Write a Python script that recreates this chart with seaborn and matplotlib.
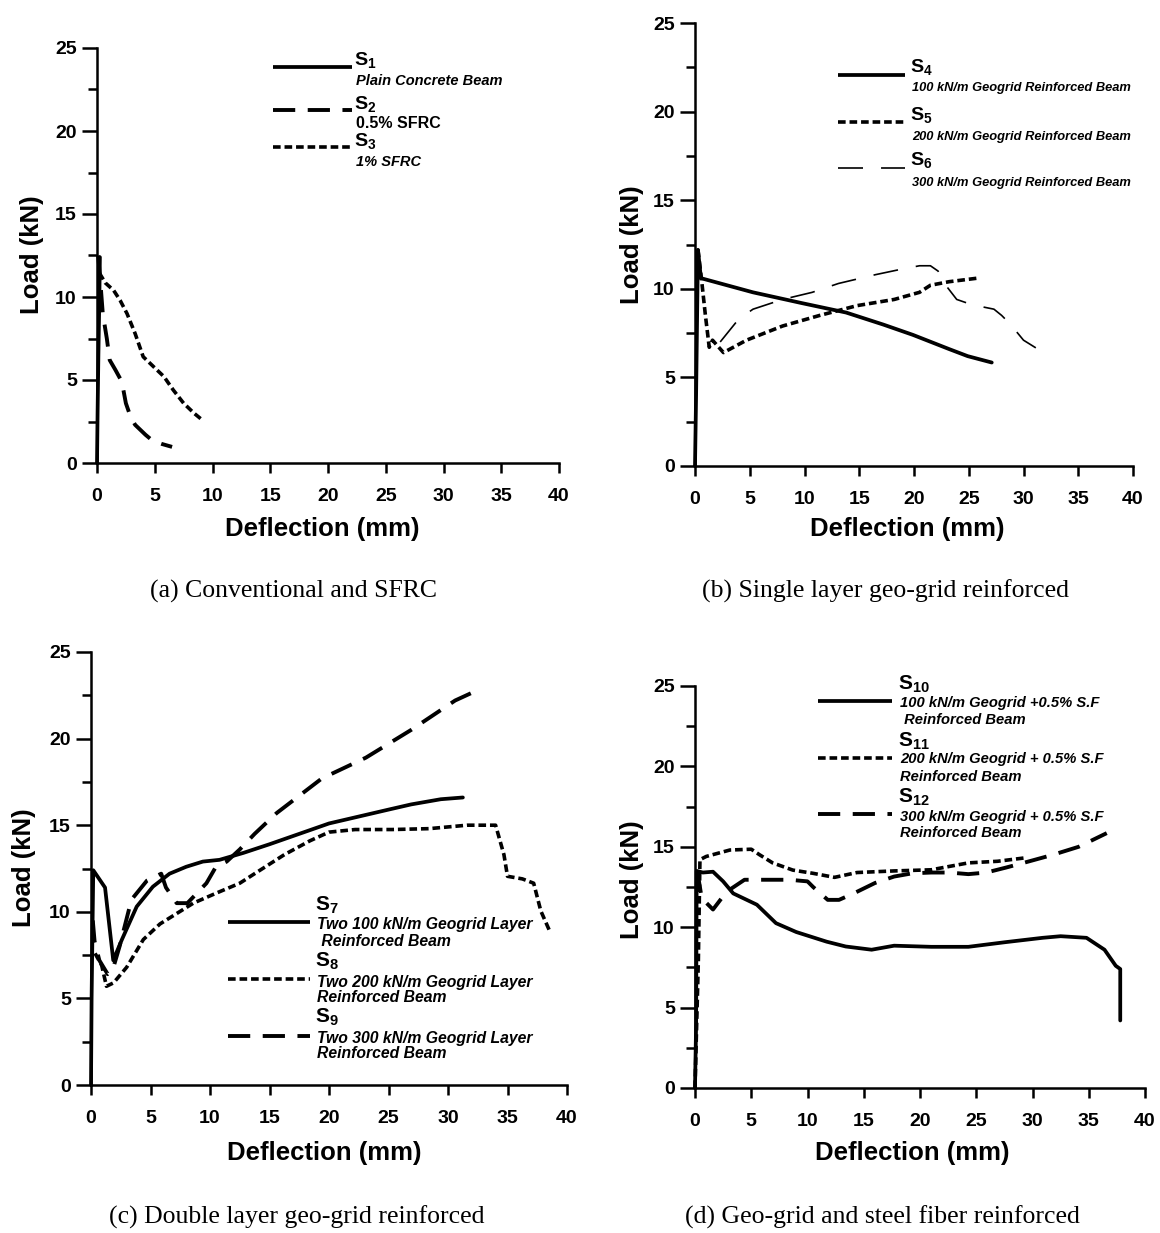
import numpy as np
import pandas as pd
import matplotlib
matplotlib.use("Agg")
import matplotlib.pyplot as plt
from matplotlib.lines import Line2D
from matplotlib import font_manager
import seaborn as sns

# ---------------- data: deflection (mm) / load (kN) ----------------
# (a) conventional and SFRC
s1_x = [0, 0.05, 0.12, 0.2, 0.25]
s1_y = [0, 3.0, 6.5, 9.8, 12.4]
s2_x = [0.1, 0.25, 0.5, 0.85, 1.1, 1.6, 2.15, 2.5, 2.9, 3.3, 3.6, 4.2, 4.8, 5.6, 6.5]
s2_y = [12.5, 11.3, 9.0, 7.5, 6.2, 5.6, 4.9, 3.6, 2.8, 2.3, 2.1, 1.7, 1.35, 1.15, 0.97]
s3_x = [0.2, 0.72, 1.44, 2.0, 2.6, 3.3, 4.0, 4.9, 5.8, 6.6, 7.5, 8.4, 9.1]
s3_y = [11.45, 10.85, 10.4, 9.8, 9.0, 7.8, 6.4, 5.8, 5.2, 4.4, 3.6, 3.0, 2.6]

# (b) single layer geo-grid
s4_x = [0, 0.1, 0.27, 0.54, 5.3, 9.7, 13.8, 17.2, 19.9, 23.2, 24.9, 27.1]
s4_y = [0, 4.0, 12.2, 10.6, 9.8, 9.2, 8.66, 7.98, 7.4, 6.6, 6.2, 5.84]
s5_x = [0.27, 0.6, 0.95, 1.3, 1.6, 2.6, 4.7, 8.0, 11.4, 14.8, 18.2, 20.5, 21.5, 23.2, 25.8]
s5_y = [12.2, 10.5, 8.5, 6.7, 7.1, 6.4, 7.1, 7.9, 8.5, 9.05, 9.4, 9.8, 10.2, 10.4, 10.6]
s6_x = [2.3, 4.0, 5.3, 8.0, 10.7, 13.1, 16.5, 18.8, 20.5, 21.5, 22.2, 22.9, 23.9,
        25.3, 27.3, 28.0, 28.8, 30.0, 31.3]
s6_y = [7.0, 8.3, 8.85, 9.4, 9.8, 10.3, 10.8, 11.1, 11.3, 11.3, 11.0, 10.2, 9.4,
        9.1, 8.85, 8.5, 8.0, 7.1, 6.6]

# (c) double layer geo-grid
s7_x = [0, 0.05, 0.19, 1.18, 1.87, 2.6, 3.84, 5.2, 6.6, 8.0, 9.4, 10.8, 12.8, 15,
        17.5, 20, 22.5, 25, 26.9, 29.4, 31.25]
s7_y = [0, 5, 12.4, 11.4, 7.2, 8.4, 10.3, 11.45, 12.2, 12.6, 12.9, 13.0, 13.4, 13.9,
        14.5, 15.1, 15.5, 15.9, 16.2, 16.5, 16.6]
s8_x = [0.34, 0.9, 1.3, 1.9, 3.0, 4.4, 5.8, 7.2, 8.6, 10.6, 12.5, 14.2, 16.25, 18.4,
        20, 22.2, 25.3, 28.4, 31.6, 34.0, 34.7, 35.0, 36.25, 37.2, 37.8, 38.6]
s8_y = [7.6, 6.9, 5.7, 5.9, 6.8, 8.4, 9.3, 9.9, 10.5, 11.1, 11.65, 12.4, 13.3, 14.1,
        14.6, 14.75, 14.75, 14.8, 15.0, 15.0, 13.3, 12.05, 11.9, 11.65, 10.05, 8.8]
s9_x = [0.15, 0.3, 0.7, 1.4, 1.8, 2.4, 3.4, 4.7, 5.9, 6.3, 7.2, 8.1, 9.7, 10.5, 11.4,
        12.5, 13.75, 15.6, 17.5, 19.4, 21.25, 23.1, 25, 26.9, 28.75, 30.6, 32.5]
s9_y = [9.5, 8.3, 7.2, 6.4, 6.6, 8.0, 10.7, 11.8, 12.2, 11.4, 10.5, 10.5, 11.65, 12.6,
        12.9, 13.6, 14.5, 15.7, 16.7, 17.7, 18.3, 18.9, 19.7, 20.5, 21.35, 22.2, 22.8]

# (d) geo-grid + steel fiber
s10_x = [0, 0.1, 0.15, 0.7, 1.6, 2.5, 3.4, 5.5, 7.2, 9.0, 11.7, 13.4, 15.7, 17.7, 21,
         24.3, 27.6, 30.9, 32.5, 34.8, 36.4, 37.4, 37.8, 37.8]
s10_y = [0, 4.0, 13.5, 13.4, 13.45, 12.85, 12.1, 11.4, 10.25, 9.7, 9.1, 8.8, 8.6, 8.85,
         8.78, 8.78, 9.07, 9.34, 9.44, 9.34, 8.6, 7.6, 7.4, 4.2]
s11_x = [0, 0.3, 0.44, 1.0, 3.1, 5.0, 5.75, 6.9, 8.7, 10.5, 12.4, 14.4, 17.7, 21, 24.3,
         26.9, 29.2]
s11_y = [0, 8, 14.2, 14.4, 14.8, 14.85, 14.5, 14.0, 13.55, 13.35, 13.1, 13.4, 13.5,
         13.57, 14.0, 14.1, 14.3]
s12_x = [0.2, 0.6, 1.6, 2.8, 4.4, 6.6, 8.4, 10.0, 10.5, 11.8, 12.8, 14.1, 16, 17.7,
         19.3, 21, 22.6, 24.3, 25.9, 27.6, 29.2, 31.8, 34.1, 36.6]
s12_y = [13.5, 11.8, 11.1, 12.2, 12.95, 12.95, 12.95, 12.85, 12.5, 11.7, 11.7, 12.1,
         12.75, 13.15, 13.35, 13.4, 13.4, 13.3, 13.4, 13.7, 14.0, 14.5, 15.0, 15.85]

x_ticks = [0, 5, 10, 15, 20, 25, 30, 35, 40]
y_ticks = [0, 5, 10, 15, 20, 25]

captions = ["(a) Conventional and SFRC",
            "(b) Single layer geo-grid reinforced",
            "(c) Double layer geo-grid reinforced",
            "(d) Geo-grid and steel fiber reinforced"]

# ---------------- styling ----------------
W, H = 1160, 1233
sns.set_theme(style="ticks")
SANS = ["Liberation Sans", "DejaVu Sans"]
SERIF = ["Liberation Serif", "DejaVu Serif"]
plt.rcParams["font.family"] = SANS
plt.rcParams["text.color"] = "black"
plt.rcParams["axes.labelcolor"] = "black"
plt.rcParams["xtick.color"] = "black"
plt.rcParams["ytick.color"] = "black"
plt.rcParams["lines.scale_dashes"] = False
plt.rcParams["mathtext.fontset"] = "custom"
plt.rcParams["mathtext.rm"] = "Liberation Sans:bold"
plt.rcParams["mathtext.default"] = "rm"

installed = {f.name for f in font_manager.fontManager.ttflist}
NARROW = ["Liberation Sans Narrow", "Liberation Sans"] if "Liberation Sans Narrow" in installed else SANS

SOLID = dict(linestyle="-", linewidth=2.7)
SHORT = dict(linestyle=(0, (5.5, 2.8)), linewidth=2.6)
LONG = dict(linestyle=(0, (16, 9)), linewidth=2.8)
THIN = dict(linestyle=(0, (18, 13)), linewidth=1.2)

fig = plt.figure(figsize=(W / 100, H / 100), dpi=100)


def fx(px):
    return px / W


def fy(py):
    return 1 - py / H


def make_axes(x0, x40, y0, y25):
    ax = fig.add_axes([fx(x0), fy(y0), fx(x40 - x0), (y0 - y25) / H])
    ax.set_xlim(0, 40)
    ax.set_ylim(0, 25)
    sns.despine(ax=ax)
    for s in ("left", "bottom"):
        ax.spines[s].set_linewidth(1.8)
        ax.spines[s].set_color("black")
    ax.set_xticks(x_ticks)
    ax.set_yticks(y_ticks)
    ax.set_yticks(np.arange(2.5, 25, 5), minor=True)
    ax.tick_params(axis="y", which="major", length=11, width=1.8, pad=3.5, color="black")
    ax.tick_params(axis="y", which="minor", length=6.5, width=1.8, color="black")
    ax.tick_params(axis="x", which="major", length=7, width=1.8, pad=11, color="black")
    for lab in ax.get_xticklabels() + ax.get_yticklabels():
        lab.set_fontweight("bold")
        lab.set_fontsize(14)
        lab.set_color("black")
    ax.set_xlabel("")
    ax.set_ylabel("")
    return ax


def draw(ax, x, y, style):
    df = pd.DataFrame({"Deflection": x, "Load": y})
    sns.lineplot(data=df, x="Deflection", y="Load", ax=ax, sort=False, estimator=None,
                 color="black", legend=False, clip_on=False, **style)
    ax.set_xlabel("")
    ax.set_ylabel("")


def entry(x0, x1, ly, style, sx, sy, num, descs, s_size=14, d_size=10.5, family=SANS):
    fig.add_artist(Line2D([fx(x0), fx(x1)], [fy(ly), fy(ly)], transform=fig.transFigure,
                          color="black", solid_capstyle="butt", dash_capstyle="butt", **style))
    fig.text(fx(sx), fy(sy), "S$_{%s}$" % num, fontsize=s_size, fontweight="bold",
             va="center", ha="left")
    for txt, ty, italic in descs:
        fig.text(fx(sx + 2), fy(ty), txt, fontsize=d_size, fontweight="bold",
                 fontstyle="italic" if italic else "normal", family=family,
                 va="center", ha="left")


def labels(ycx, ycy, xcx, xcy):
    fig.text(fx(ycx), fy(ycy), "Load (kN)", rotation=90, fontsize=18.5, fontweight="bold",
             ha="center", va="center")
    fig.text(fx(xcx), fy(xcy), "Deflection (mm)", fontsize=18.5, fontweight="bold",
             ha="center", va="center")


# (a)
ax_a = make_axes(97, 559, 463, 48)
draw(ax_a, s1_x, s1_y, SOLID)
draw(ax_a, s2_x, s2_y, LONG)
draw(ax_a, s3_x, s3_y, SHORT)
labels(32, 255, 322, 529)
entry(273, 352, 67, SOLID, 354, 60, "1", [("Plain Concrete Beam", 81, True)])
entry(273, 352, 110, LONG, 354, 104, "2", [("0.5% SFRC", 124, False)], d_size=11.5)
entry(273, 352, 147, SHORT, 354, 141, "3", [("1% SFRC", 162, True)])

# (b)
ax_b = make_axes(695, 1133, 466, 23)
draw(ax_b, s4_x, s4_y, SOLID)
draw(ax_b, s5_x, s5_y, SHORT)
draw(ax_b, s6_x, s6_y, THIN)
labels(632, 245, 907, 529)
for ly, sy, num, ty, st in [(75, 67, "4", 88, SOLID), (122, 115, "5", 137, SHORT),
                            (168, 160, "6", 183, THIN)]:
    entry(838, 905, ly, st, 910, sy, num,
          [("%d00 kN/m Geogrid Reinforced Beam" % (int(num) - 3), ty, True)],
          s_size=14, d_size=9.3, family=NARROW)

# (c)
ax_c = make_axes(91, 567, 1085, 652)
draw(ax_c, s7_x, s7_y, SOLID)
draw(ax_c, s8_x, s8_y, SHORT)
draw(ax_c, s9_x, s9_y, LONG)
labels(24, 868, 324, 1153)
entry(228, 310, 922, SOLID, 315, 905, "7",
      [("Two 100 kN/m Geogrid Layer", 925, True), (" Reinforced Beam", 941, True)],
      s_size=15, d_size=11.3)
entry(228, 310, 979, SHORT, 315, 961, "8",
      [("Two 200 kN/m Geogrid Layer", 982, True), ("Reinforced Beam", 998, True)],
      s_size=15, d_size=11.3)
entry(228, 310, 1036, LONG, 315, 1017, "9",
      [("Two 300 kN/m Geogrid Layer", 1038, True), ("Reinforced Beam", 1054, True)],
      s_size=15, d_size=11.3)

# (d)
ax_d = make_axes(695, 1145, 1088, 686)
draw(ax_d, s10_x, s10_y, SOLID)
draw(ax_d, s11_x, s11_y, SHORT)
draw(ax_d, s12_x, s12_y, LONG)
labels(632, 880, 912, 1153)
entry(818, 892, 701, SOLID, 898, 684, "10",
      [("100 kN/m Geogrid +0.5% S.F", 703, True), (" Reinforced Beam", 720, True)],
      s_size=15, d_size=10.6)
entry(818, 892, 758, SHORT, 898, 741, "11",
      [("200 kN/m Geogrid + 0.5% S.F", 759, True), ("Reinforced Beam", 777, True)],
      s_size=15, d_size=10.6)
entry(818, 892, 814, LONG, 898, 797, "12",
      [("300 kN/m Geogrid + 0.5% S.F", 817, True), ("Reinforced Beam", 833, True)],
      s_size=15, d_size=10.6)

# captions
for cx, cy, txt in [(293, 591, captions[0]), (885, 591, captions[1]),
                    (297, 1217, captions[2]), (882, 1217, captions[3])]:
    fig.text(fx(cx), fy(cy), txt, family=SERIF, fontsize=18.5, ha="center", va="center")

fig.savefig("out.png", dpi=100, facecolor="white")
